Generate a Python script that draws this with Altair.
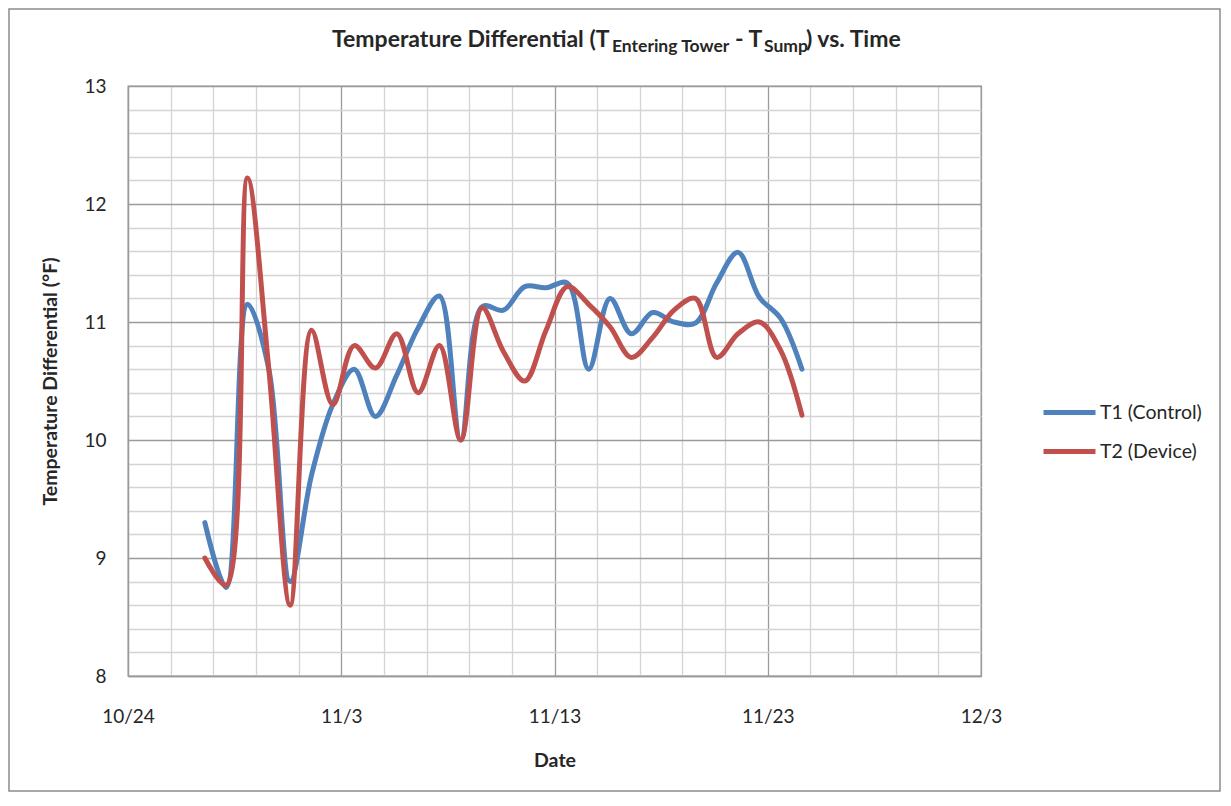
import altair as alt
import pandas as pd

# ---- data ----
dates = [
    "2013-10-27T14:30:00", "2013-10-28T14:30:00", "2013-10-29T14:30:00", "2013-10-30T14:30:00",
    "2013-10-31T14:30:00", "2013-11-01T14:30:00", "2013-11-02T14:30:00", "2013-11-03T14:30:00",
    "2013-11-04T14:30:00", "2013-11-05T14:30:00", "2013-11-06T14:30:00", "2013-11-07T14:30:00",
    "2013-11-08T14:30:00", "2013-11-09T14:30:00", "2013-11-10T14:30:00", "2013-11-11T14:30:00",
    "2013-11-12T14:30:00", "2013-11-13T14:30:00", "2013-11-14T14:30:00", "2013-11-15T14:30:00",
    "2013-11-16T14:30:00", "2013-11-17T14:30:00", "2013-11-18T14:30:00", "2013-11-19T14:30:00",
    "2013-11-20T14:30:00", "2013-11-21T14:30:00", "2013-11-22T14:30:00", "2013-11-23T14:30:00",
    "2013-11-24T14:30:00",
]
t1_control = [9.30, 8.75, 11.15, 10.60, 8.80, 9.70, 10.30, 10.60, 10.20, 10.55,
              10.95, 11.22, 10.00, 11.13, 11.10, 11.30, 11.29, 11.33, 10.60, 11.20,
              10.90, 11.08, 11.00, 10.99, 11.33, 11.59, 11.21, 11.03, 10.60]
t2_device = [9.00, 8.77, 12.22, 10.60, 8.60, 10.93, 10.30, 10.80, 10.61, 10.90,
             10.40, 10.80, 10.00, 11.12, 10.75, 10.50, 10.93, 11.30, 11.15, 10.96,
             10.70, 10.87, 11.10, 11.20, 10.70, 10.90, 11.00, 10.76, 10.21]
series_names = ["T1 (Control)", "T2 (Device)"]
series_colors = ["#4F81BD", "#C0504D"]

major_date_labels = ["10/24", "11/3", "11/13", "11/23", "12/3"]
y_ticks = [round(8 + 0.2 * i, 1) for i in range(26)]

# axis tick dates every two days between 10/24 and 12/3
x_tick_days = pd.date_range("2013-10-24", "2013-12-03", freq="2D")
x_ticks = [alt.DateTime(year=d.year, month=d.month, date=d.day) for d in x_tick_days]

rows = []
for d, a, b in zip(dates, t1_control, t2_device):
    rows.append({"date": d, "series": series_names[0], "value": a})
    rows.append({"date": d, "series": series_names[1], "value": b})
df = pd.DataFrame(rows)

MAJOR = "#9a9a9a"
MINOR = "#d4d4d4"
TXT = "#262626"
LABEL_SIZE = 19
TITLE_SIZE = 19.5

major_list = "[" + ",".join("'" + s + "'" for s in major_date_labels) + "]"
x_major_test = f"indexof({major_list}, timeFormat(datum.value, '%-m/%-d')) >= 0"
y_major_test = "abs(datum.value - round(datum.value)) < 0.001"

lines = alt.Chart(df).mark_line(
    interpolate="catmull-rom", strokeWidth=5, strokeCap="round", strokeJoin="round"
).encode(
    x=alt.X(
        "date:T",
        scale=alt.Scale(
            domain=[alt.DateTime(year=2013, month=10, date=24),
                    alt.DateTime(year=2013, month=12, date=3)],
            nice=False,
        ),
        axis=alt.Axis(
            values=x_ticks,
            labelExpr=f"{x_major_test} ? timeFormat(datum.value, '%-m/%-d') : ''",
            grid=True,
            gridColor={"condition": {"test": x_major_test, "value": MAJOR}, "value": MINOR},
            gridWidth=1.3,
            ticks=False,
            tickSize=0,
            domainColor=MAJOR,
            domainWidth=1.3,
            labelFontSize=LABEL_SIZE,
            labelColor=TXT,
            labelPadding=40,
            labelBaseline="middle",
            labelAlign="center",
            labelFlush=False,
            labelOverlap=False,
            title="Date",
            titleFontSize=TITLE_SIZE,
            titleFontWeight="bold",
            titleColor=TXT,
            titleX=426.5,
            titleY=84,
            titleAlign="center",
            titleBaseline="middle",
        ),
    ),
    y=alt.Y(
        "value:Q",
        scale=alt.Scale(domain=[8, 13], nice=False, zero=False),
        axis=alt.Axis(
            values=y_ticks,
            labelExpr=f"{y_major_test} ? format(datum.value, 'd') : ''",
            grid=True,
            gridColor={"condition": {"test": y_major_test, "value": MAJOR}, "value": MINOR},
            gridWidth=1.3,
            ticks=False,
            tickSize=0,
            domainColor=MAJOR,
            domainWidth=1.3,
            labelFontSize=LABEL_SIZE,
            labelColor=TXT,
            labelPadding=22,
            labelFlush=False,
            labelOverlap=False,
            title="Temperature Differential (°F)",
            titleFontSize=TITLE_SIZE,
            titleFontWeight="bold",
            titleColor=TXT,
            titleAngle=-90,
            titleX=-78,
            titleY=295,
            titleAlign="center",
            titleBaseline="middle",
        ),
    ),
    color=alt.Color(
        "series:N",
        scale=alt.Scale(domain=series_names, range=series_colors),
        legend=alt.Legend(
            title=None,
            orient="none",
            legendX=913,
            legendY=298,
            symbolType="stroke",
            symbolSize=2704,
            symbolStrokeWidth=5,
            labelFontSize=TITLE_SIZE,
            labelColor=TXT,
            labelOffset=2,
            rowPadding=-11,
            padding=0,
        ),
    ),
)

one = pd.DataFrame({"k": [0]})


def title_part(text, x, y, size):
    return alt.Chart(one).mark_text(
        text=text, align="left", baseline="alphabetic", fontSize=size,
        fontWeight="bold", color=TXT, font="Lato"
    ).encode(x=alt.value(x), y=alt.value(y))


title_parts = [
    title_part("Temperature Differential (T", 204, -39.5, 23),
    title_part("Entering Tower", 484, -34, 17.5),
    title_part("- T", 607, -39.5, 23),
    title_part("Sump", 636, -34, 17.5),
    title_part(") vs. Time", 678, -39.5, 23),
]

border = alt.Chart(one).mark_rect(
    fillOpacity=0, stroke="#8c8c8c", strokeWidth=1.5
).encode(
    x=alt.value(-119), x2=alt.value(1092), y=alt.value(-77), y2=alt.value(705)
)

chart = alt.layer(lines, border, *title_parts).properties(
    width=853,
    height=590,
    autosize=alt.AutoSizeParams(type="none"),
    padding={"left": 120, "top": 78, "right": 240, "bottom": 116},
).configure(
    font="Lato",
).configure_view(
    stroke=MAJOR, strokeWidth=1.3
)

chart.save("out.html", embed_options={"renderer": "svg", "actions": False})
